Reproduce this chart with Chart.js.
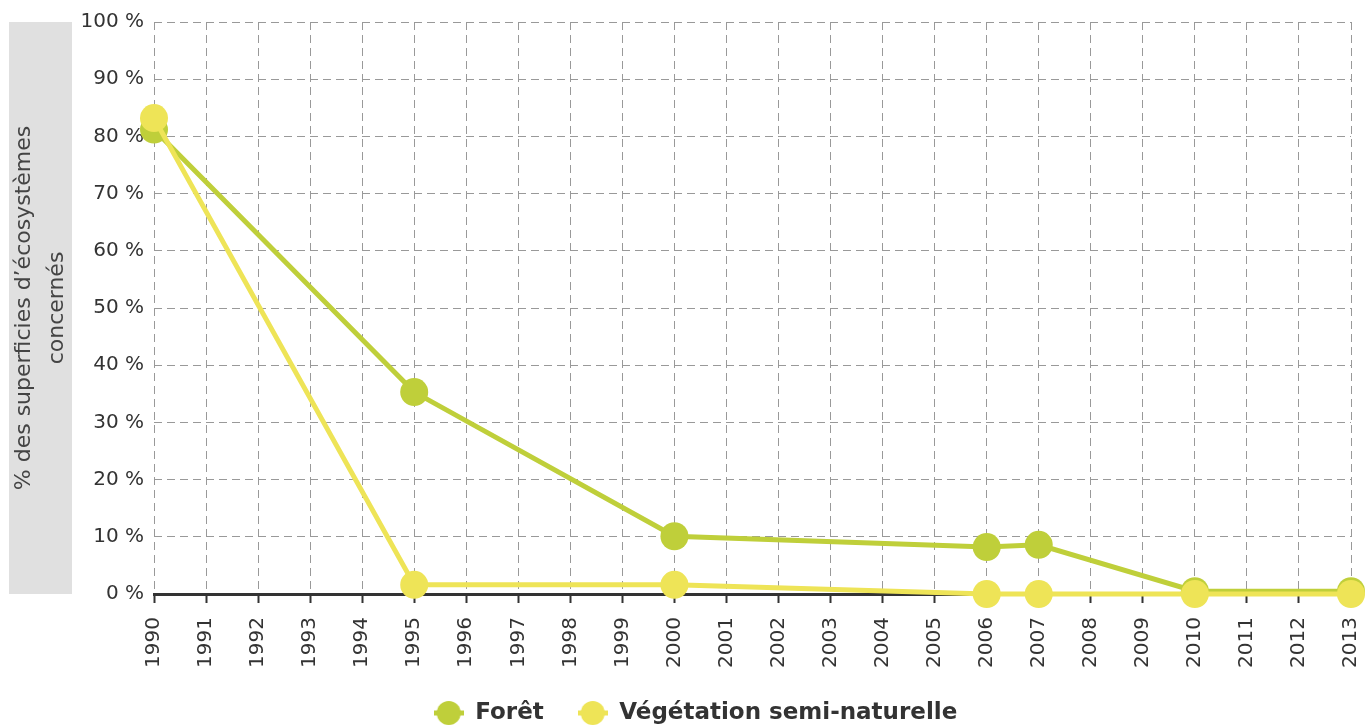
<!DOCTYPE html>
<html>
<head>
<meta charset="utf-8">
<script src="https://cdn.jsdelivr.net/npm/chart.js@4/dist/chart.umd.min.js"></script>
<style>
html,body{margin:0;padding:0;background:#fff;}
#wrap{width:1365px;height:726px;position:relative;}
</style>
</head>
<body>
<div id="wrap"><canvas id="c" width="1365" height="726"></canvas></div>
<script>
const years = [1990, 1995, 2000, 2006, 2007, 2010, 2013];
const foret = [81.2, 35.3, 10.1, 8.2, 8.6, 0.5, 0.5];
const vegetation = [83.2, 1.6, 1.6, 0, 0, 0, 0];
const seriesNames = ['Forêt', 'Végétation semi-naturelle'];
const seriesColors = ['#bfcf3a', '#eee457'];
const yTitle = ['% des superficies d’écosystèmes', 'concernés'];

function legendIcon(color){
  const c = document.createElement('canvas');
  c.width = 30; c.height = 26;
  const g = c.getContext('2d');
  g.strokeStyle = color; g.lineWidth = 5;
  g.beginPath(); g.moveTo(0,13); g.lineTo(30,13); g.stroke();
  g.fillStyle = color;
  g.beginPath(); g.arc(15,13,12,0,Math.PI*2); g.fill();
  return c;
}
const icons = seriesColors.map(legendIcon);

const bgBox = {
  id: 'bgBox',
  beforeDraw(chart){
    const ctx = chart.ctx, a = chart.chartArea;
    ctx.save();
    ctx.fillStyle = '#e0e0e0';
    ctx.fillRect(9, a.top, 63, a.bottom - a.top);
    ctx.restore();
  },
  afterLayout(chart){
    if (chart.legend){ chart.legend.left += 18; chart.legend.right += 18; }
  }
};

function toPts(arr){ return years.map((x,i)=>({x:x, y:arr[i]})); }

new Chart(document.getElementById('c'), {
  type: 'line',
  data: {
    datasets: [
      {label: seriesNames[0], data: toPts(foret), borderColor: seriesColors[0], backgroundColor: seriesColors[0],
       borderWidth: 5, pointRadius: 14, pointHoverRadius: 14, pointBorderWidth: 0, clip: false, order: 2},
      {label: seriesNames[1], data: toPts(vegetation), borderColor: seriesColors[1], backgroundColor: seriesColors[1],
       borderWidth: 5, pointRadius: 14, pointHoverRadius: 14, pointBorderWidth: 0, clip: false, order: 1}
    ]
  },
  plugins: [bgBox],
  options: {
    responsive: false,
    animation: false,
    layout: {padding: {left: 0, right: 10, top: 22, bottom: -8.5}},
    plugins: {
      tooltip: {enabled: false},
      legend: {
        position: 'bottom',
        labels: {
          usePointStyle: true,
          pointStyleWidth: 30,
          color: '#333',
          font: {family: 'DejaVu Sans', size: 23, weight: 'bold', lineHeight: 1},
          padding: 34,
          sort: (a, b) => a.datasetIndex - b.datasetIndex,
          generateLabels(chart){
            const items = Chart.defaults.plugins.legend.labels.generateLabels(chart);
            items.forEach(it => { it.pointStyle = icons[it.datasetIndex]; });
            return items;
          }
        }
      }
    },
    scales: {
      x: {
        type: 'linear', min: 1990, max: 2013,
        afterFit(s){ s.height = 73.5; s.paddingLeft = 0; s.paddingRight = 0; },
        ticks: {stepSize: 1, autoSkip: false, minRotation: 90, maxRotation: 90, color: '#333',
                font: {family: 'DejaVu Sans', size: 20}, padding: 14,
                callback: v => String(v)},
        grid: {color: '#999', lineWidth: 1, tickLength: 9, tickColor: '#333', tickBorderDash: [], tickWidth: 2},
        border: {display: true, color: '#333', width: 3, dash: [8, 5]}
      },
      y: {
        min: 0, max: 100,
        afterFit(s){ s.width = 154; },
        ticks: {stepSize: 10, color: '#333', font: {family: 'DejaVu Sans', size: 20}, padding: 10,
                callback: v => v + ' %'},
        grid: {color: '#999', lineWidth: 1, drawTicks: false},
        border: {display: false, dash: [8, 5]},
        title: {display: true, text: yTitle, color: '#444', font: {family: 'DejaVu Sans', size: 22, lineHeight: 1.5},
                padding: {top: 8, bottom: 0}}
      }
    }
  }
});
</script>
</body>
</html>
